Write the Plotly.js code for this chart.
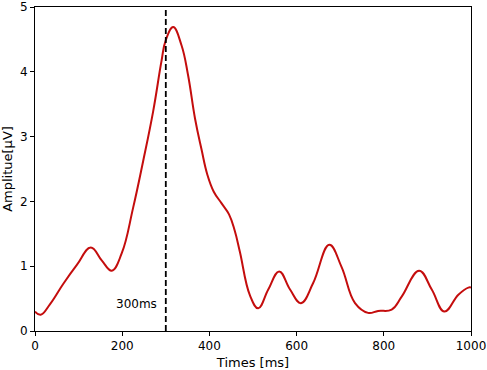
<!DOCTYPE html>
<html>
<head>
<meta charset="utf-8">
<script src="https://cdn.plot.ly/plotly-3.0.1.min.js"></script>
<style>html,body{margin:0;padding:0;background:#fff;}#chart{width:487px;height:370px;}</style>
</head>
<body>
<div id="chart"></div>
<script>
const timesMs = [0, 13, 35, 65, 96, 128, 153, 176, 199, 225, 248, 271, 290, 300, 317, 336, 351, 367, 382, 395, 410, 428, 445, 458, 470, 493, 512, 535, 560, 585, 610, 638, 675, 703, 734, 764, 787, 818, 841, 881, 910, 939, 971, 994, 1000];
const amplitude = [0.30, 0.25, 0.42, 0.73, 1.02, 1.29, 1.09, 0.93, 1.20, 1.90, 2.62, 3.39, 4.16, 4.49, 4.69, 4.41, 3.95, 3.28, 2.80, 2.42, 2.15, 1.97, 1.80, 1.55, 1.22, 0.55, 0.35, 0.64, 0.92, 0.64, 0.43, 0.74, 1.33, 0.99, 0.43, 0.28, 0.31, 0.33, 0.53, 0.93, 0.64, 0.30, 0.56, 0.67, 0.67];
const markerTime = 300;
const markerLabel = "300ms";
const xTicks = [0, 200, 400, 600, 800, 1000];
const yTicks = [0, 1, 2, 3, 4, 5];

const font = "DejaVu Sans, sans-serif";
const trace = {
  x: timesMs, y: amplitude, type: "scatter", mode: "lines",
  line: {color: "#c40d0d", width: 2, shape: "spline", smoothing: 1.2},
  hoverinfo: "skip"
};
const axisCommon = {
  showgrid: false, zeroline: false, showline: true, mirror: true,
  linecolor: "#000", linewidth: 1, ticks: "outside", ticklen: 4, tickwidth: 1,
  tickcolor: "#000", ticklabeloverflow: "allow",
  tickfont: {family: font, size: 12, color: "#000"}
};
const layout = {
  width: 487, height: 370,
  margin: {l: 35, r: 16, t: 7, b: 39},
  paper_bgcolor: "#fff", plot_bgcolor: "#fff",
  showlegend: false,
  xaxis: Object.assign({}, axisCommon, {
    range: [0, 1000], tickvals: xTicks, ticktext: xTicks.map(String),
    title: {text: "Times [ms]", font: {family: font, size: 13, color: "#000"}, standoff: 5}
  }),
  yaxis: Object.assign({}, axisCommon, {
    range: [0, 5], tickvals: yTicks, ticktext: yTicks.map(String),
    title: {text: "Amplitue[μV]", font: {family: font, size: 13, color: "#000"}, standoff: 8}
  }),
  shapes: [{
    type: "line", xref: "x", yref: "paper", x0: markerTime, x1: markerTime, y0: 0, y1: 1,
    line: {color: "#000", width: 1.8, dash: "6px,3px"}
  }],
  annotations: [{
    x: markerTime - 15, y: 0.42, xref: "x", yref: "y", text: markerLabel,
    showarrow: false, xanchor: "right", yanchor: "middle",
    font: {family: font, size: 12, color: "#000"}
  }]
};
Plotly.newPlot("chart", [trace], layout, {staticPlot: true, displayModeBar: false});
</script>
</body>
</html>
